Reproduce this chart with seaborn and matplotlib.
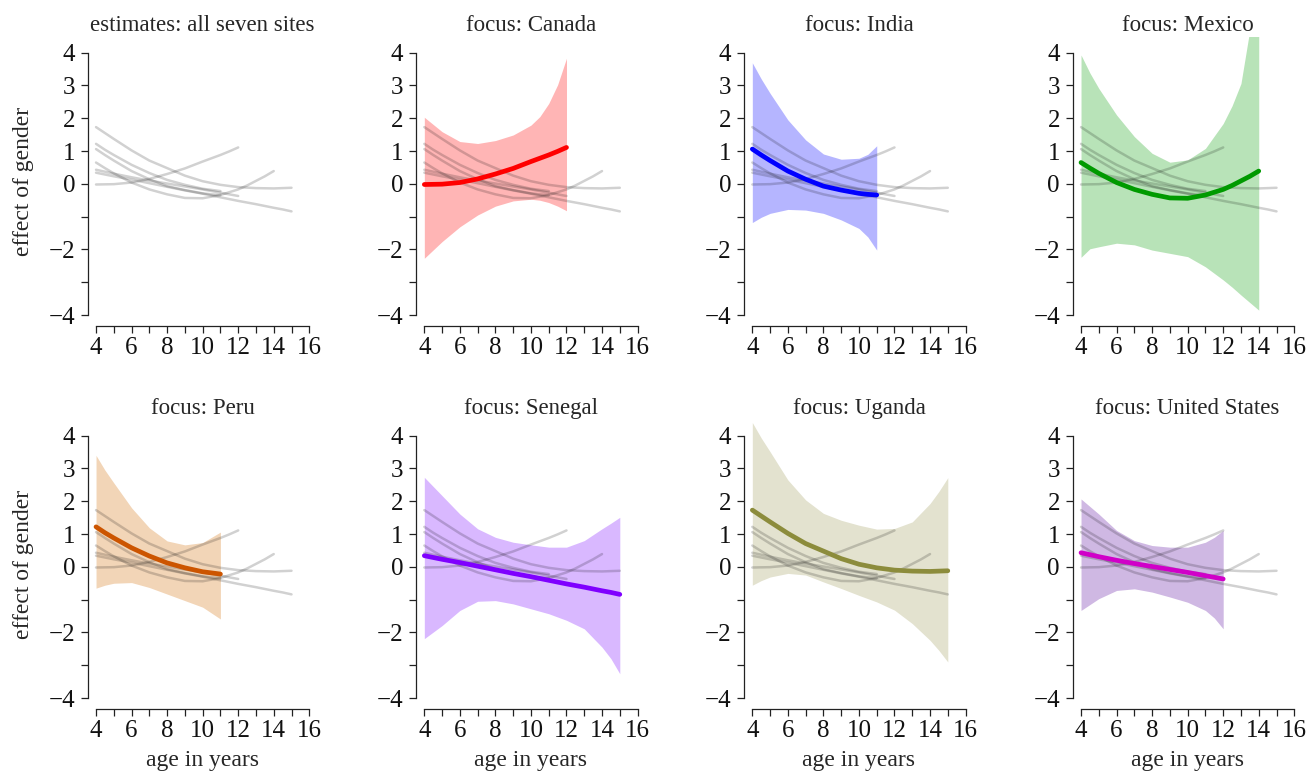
import numpy as np
import pandas as pd
import matplotlib
matplotlib.use("Agg")
import matplotlib.pyplot as plt
import seaborn as sns

# ---------------- data ----------------
sites = ["Canada", "India", "Mexico", "Peru", "Senegal", "Uganda", "United States"]

canada_age = [4, 5, 6, 7, 8, 9, 10, 10.5, 11, 11.5, 12]
canada_mean = [-0.02, -0.01, 0.04, 0.15, 0.30, 0.47, 0.68, 0.78, 0.88, 0.99, 1.11]
canada_lo = [-2.27, -1.76, -1.31, -0.95, -0.68, -0.52, -0.47, -0.50, -0.57, -0.68, -0.82]
canada_hi = [2.03, 1.59, 1.29, 1.23, 1.32, 1.49, 1.79, 2.05, 2.45, 3.02, 3.83]

india_age = [4, 4.5, 5, 6, 7, 8, 9, 10, 10.5, 11]
india_mean = [1.06, 0.88, 0.71, 0.39, 0.14, -0.07, -0.19, -0.29, -0.32, -0.34]
india_lo = [-1.18, -1.02, -0.90, -0.78, -0.80, -0.90, -1.10, -1.36, -1.62, -2.02]
india_hi = [3.69, 3.20, 2.76, 1.95, 1.34, 0.91, 0.75, 0.78, 0.90, 1.16]

mexico_age = [4, 4.5, 5, 6, 7, 8, 9, 10, 11, 12, 12.5, 13, 13.5, 14]
mexico_mean = [0.65, 0.48, 0.32, 0.04, -0.17, -0.32, -0.43, -0.44, -0.34, -0.17, -0.05, 0.09, 0.23, 0.39]
mexico_lo = [-2.24, -1.98, -1.92, -1.81, -1.86, -2.02, -2.12, -2.22, -2.53, -2.93, -3.15, -3.39, -3.62, -3.85]
mexico_hi = [3.93, 3.38, 2.91, 2.10, 1.44, 0.93, 0.66, 0.73, 1.08, 1.84, 2.38, 3.06, 4.70, 6.50]

peru_age = [4, 4.5, 5, 6, 7, 8, 9, 10, 11]
peru_mean = [1.22, 1.04, 0.88, 0.58, 0.33, 0.12, -0.03, -0.15, -0.22]
peru_lo = [-0.65, -0.56, -0.50, -0.48, -0.63, -0.83, -1.03, -1.23, -1.59]
peru_hi = [3.40, 2.95, 2.56, 1.80, 1.19, 0.79, 0.67, 0.74, 1.06]

senegal_age = [4, 5, 6, 7, 8, 9, 10, 11, 12, 13, 14, 14.5, 15]
senegal_mean = [0.34, 0.23, 0.13, 0.02, -0.09, -0.20, -0.30, -0.41, -0.52, -0.62, -0.73, -0.78, -0.84]
senegal_lo = [-2.19, -1.79, -1.33, -1.05, -1.03, -1.13, -1.28, -1.43, -1.63, -1.89, -2.45, -2.80, -3.26]
senegal_hi = [2.73, 2.17, 1.61, 1.16, 0.90, 0.75, 0.67, 0.60, 0.60, 0.80, 1.16, 1.33, 1.51]

uganda_age = [4, 4.5, 5, 6, 7, 8, 9, 10, 11, 12, 13, 14, 14.5, 15]
uganda_mean = [1.73, 1.55, 1.37, 1.02, 0.71, 0.48, 0.25, 0.08, -0.03, -0.10, -0.13, -0.14, -0.13, -0.12]
uganda_lo = [-0.56, -0.42, -0.31, -0.20, -0.25, -0.46, -0.66, -0.87, -1.07, -1.32, -1.73, -2.24, -2.55, -2.90]
uganda_hi = [4.40, 3.93, 3.51, 2.65, 2.04, 1.63, 1.42, 1.27, 1.15, 1.17, 1.37, 1.93, 2.30, 2.72]

us_age = [4, 5, 6, 7, 8, 9, 10, 11, 11.5, 12]
us_mean = [0.43, 0.31, 0.20, 0.10, 0.01, -0.08, -0.17, -0.27, -0.32, -0.37]
us_lo = [-1.33, -0.97, -0.72, -0.67, -0.77, -0.92, -1.08, -1.33, -1.56, -1.89]
us_hi = [2.07, 1.61, 1.11, 0.80, 0.65, 0.60, 0.60, 0.75, 0.90, 1.11]

line_colors = ["#FF0000", "#0000FF", "#009A00", "#CC5500", "#7F00FF", "#8C8C3C", "#D000C8"]
band_colors = ["#FFB5B5", "#B5B5FF", "#B8E3B8", "#F2D5B7", "#D9B8FF", "#E3E2CF", "#CFB8E3"]

x_ticks = [4, 6, 8, 10, 12, 14, 16]
x_minor = [5, 7, 9, 11, 13, 15]
y_ticks = [-4, -3, -2, -1, 0, 1, 2, 3, 4]
y_ticklabels = ["\u22124", "", "\u22122", "", "0", "1", "2", "3", "4"]

frames = []
for s, a, m, lo, hi in [
    ("Canada", canada_age, canada_mean, canada_lo, canada_hi),
    ("India", india_age, india_mean, india_lo, india_hi),
    ("Mexico", mexico_age, mexico_mean, mexico_lo, mexico_hi),
    ("Peru", peru_age, peru_mean, peru_lo, peru_hi),
    ("Senegal", senegal_age, senegal_mean, senegal_lo, senegal_hi),
    ("Uganda", uganda_age, uganda_mean, uganda_lo, uganda_hi),
    ("United States", us_age, us_mean, us_lo, us_hi),
]:
    frames.append(pd.DataFrame({"site": s, "age": a, "mean": m, "lo": lo, "hi": hi}))
df = pd.concat(frames, ignore_index=True)

# ---------------- style ----------------
sns.set_theme(style="ticks")
plt.rcParams["font.family"] = ["Liberation Serif", "DejaVu Serif"]
plt.rcParams["axes.unicode_minus"] = True

fig = plt.figure(figsize=(13.08, 7.75), dpi=100)
W, H = 1308.0, 775.0
col_left = [87.5, 415.8, 743.8, 1072.5]
ax_w = 230.3
row_top = [36.6, 419.6]
ax_h = 289.4

panels = [None] + sites
for i, focus in enumerate(panels):
    r, c = divmod(i, 4)
    ax = fig.add_axes([col_left[c] / W, 1 - (row_top[r] + ax_h) / H, ax_w / W, ax_h / H])
    ax.set_facecolor("white")
    if focus is not None:
        k = sites.index(focus)
        d = df[df.site == focus]
        ax.fill_between(d["age"], d["lo"], d["hi"], color=band_colors[k], lw=0, zorder=1)
    for s in sites:
        d = df[df.site == s]
        sns.lineplot(data=d, x="age", y="mean", ax=ax, color="black", alpha=0.18,
                     lw=1.8, zorder=2, estimator=None, sort=False,
                     solid_capstyle="round")
    if focus is not None:
        d = df[df.site == focus]
        sns.lineplot(data=d, x="age", y="mean", ax=ax, color=line_colors[k],
                     lw=3.4, zorder=3, estimator=None, sort=False,
                     solid_capstyle="round")
        ax.set_title("focus: " + focus, fontsize=16.5, pad=4)
    else:
        ax.set_title("estimates: all seven sites", fontsize=16.5, pad=4)

    ax.set_xlim(3.52, 16.48)
    ax.set_ylim(-4.335, 4.49)
    for sp in ["top", "right"]:
        ax.spines[sp].set_visible(False)
    ax.spines["left"].set_bounds(-4, 4)
    ax.spines["bottom"].set_bounds(4, 16)
    for sp in ["left", "bottom"]:
        ax.spines[sp].set_linewidth(0.9)
        ax.spines[sp].set_color("#222222")
    ax.set_xticks(x_ticks)
    ax.set_xticks(x_minor, minor=True)
    ax.set_xticklabels([str(t) for t in x_ticks], fontsize=18)
    ax.set_yticks(y_ticks)
    ax.set_yticklabels(y_ticklabels, fontsize=18)
    ax.tick_params(axis="both", which="both", direction="out", length=5, width=0.9,
                   color="#222222", labelcolor="#111111")
    ax.tick_params(axis="y", pad=4)
    ax.tick_params(axis="x", pad=3)
    if c == 0:
        ax.set_ylabel("effect of gender", fontsize=17, labelpad=10)
    else:
        ax.set_ylabel("")
    if r == 1:
        ax.set_xlabel("age in years", fontsize=17, labelpad=6)
    else:
        ax.set_xlabel("")

fig.savefig("out.png", dpi=100)
